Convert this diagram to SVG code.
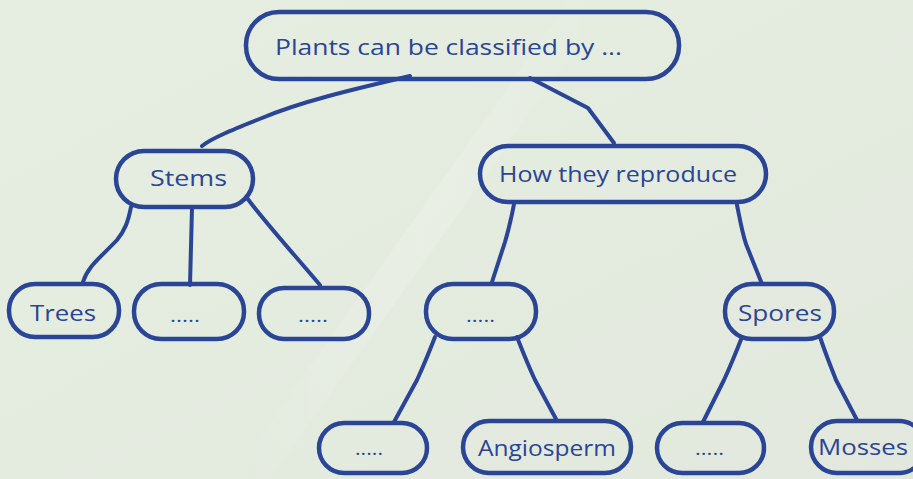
<svg xmlns="http://www.w3.org/2000/svg" width="913" height="479" viewBox="0 0 913 479">
  <defs>
    <linearGradient id="bg" x1="0" y1="0" x2="1" y2="1">
      <stop offset="0" stop-color="#e6eee1"/>
      <stop offset="0.5" stop-color="#e4ebdf"/>
      <stop offset="1" stop-color="#e2e8dd"/>
    </linearGradient>
    <linearGradient id="streak" x1="0" y1="0" x2="1" y2="0">
      <stop offset="0" stop-color="#ffffff" stop-opacity="0"/>
      <stop offset="0.5" stop-color="#ffffff" stop-opacity="0.18"/>
      <stop offset="1" stop-color="#ffffff" stop-opacity="0"/>
    </linearGradient>
  </defs>
  <style>
    .node { fill: none; stroke: #2a4595; stroke-width: 4.5; }
    .link { fill: none; stroke: #2a4595; stroke-width: 4; stroke-linecap: round; stroke-linejoin: round; }
    .label { font-family: "Open Sans", "Liberation Sans", sans-serif; fill: #2a4595; font-size: 22px; }
    .dots { font-family: "Open Sans", "Liberation Sans", sans-serif; fill: #2a4595; font-size: 18px; }
  </style>
  <rect x="0" y="0" width="913" height="479" fill="url(#bg)"/>
  <polygon points="570,0 610,0 270,479 230,479" fill="url(#streak)"/>

  <g id="connectors">
    <path class="link" d="M410 76 C 350 90, 300 102, 262 118 C 232 130, 212 138, 202 146"/>
    <path class="link" d="M530 78 L 588 108 L 614 143"/>
    <path class="link" d="M131 207 C 128 222, 125 230, 117 240 C 100 258, 88 266, 83 282"/>
    <path class="link" d="M192 208 L 190 285"/>
    <path class="link" d="M247 198 C 265 222, 285 244, 320 285"/>
    <path class="link" d="M514 204 C 511 220, 508 232, 505 242 L 492 282"/>
    <path class="link" d="M737 205 C 740 220, 742 232, 746 244 L 762 284"/>
    <path class="link" d="M435 337 C 428 355, 423 367, 417 380 L 394 422"/>
    <path class="link" d="M517 337 C 524 355, 529 367, 535 380 L 556 419"/>
    <path class="link" d="M742 337 C 735 355, 730 367, 724 380 L 703 422"/>
    <path class="link" d="M820 337 C 826 355, 831 367, 836 380 L 857 420"/>
  </g>

  <g id="node-root">
    <rect class="node" x="246" y="12" width="433" height="67" rx="33"/>
    <text class="label" x="275" y="55" font-size="24" textLength="347" lengthAdjust="spacingAndGlyphs">Plants can be classified by ...</text>
  </g>

  <g id="node-stems">
    <rect class="node" x="116" y="151" width="137" height="56" rx="28"/>
    <text class="label" x="150" y="186" textLength="77" lengthAdjust="spacingAndGlyphs">Stems</text>
  </g>

  <g id="node-reproduce">
    <rect class="node" x="480" y="146" width="286" height="56" rx="28"/>
    <text class="label" x="499" y="182" textLength="238" lengthAdjust="spacingAndGlyphs">How they reproduce</text>
  </g>

  <g id="node-trees">
    <rect class="node" x="9" y="284" width="110" height="53" rx="26"/>
    <text class="label" x="30" y="321" textLength="66" lengthAdjust="spacingAndGlyphs">Trees</text>
  </g>

  <g id="node-stem2">
    <rect class="node" x="134" y="284" width="110" height="55" rx="27"/>
    <text class="dots" x="170" y="322" textLength="30" lengthAdjust="spacingAndGlyphs">.....</text>
  </g>

  <g id="node-stem3">
    <rect class="node" x="259" y="288" width="110" height="51" rx="25"/>
    <text class="dots" x="298" y="322" textLength="30" lengthAdjust="spacingAndGlyphs">.....</text>
  </g>

  <g id="node-seeds">
    <rect class="node" x="426" y="284" width="110" height="55" rx="27"/>
    <text class="dots" x="466" y="322" textLength="29" lengthAdjust="spacingAndGlyphs">.....</text>
  </g>

  <g id="node-spores">
    <rect class="node" x="725" y="284" width="109" height="55" rx="27"/>
    <text class="label" x="738" y="321" textLength="84" lengthAdjust="spacingAndGlyphs">Spores</text>
  </g>

  <g id="node-seed1">
    <rect class="node" x="319" y="423" width="108" height="50" rx="25"/>
    <text class="dots" x="355" y="455" textLength="28" lengthAdjust="spacingAndGlyphs">.....</text>
  </g>

  <g id="node-angiosperm">
    <rect class="node" x="463" y="421" width="168" height="52" rx="26"/>
    <text class="label" x="478" y="456" textLength="138" lengthAdjust="spacingAndGlyphs">Angiosperm</text>
  </g>

  <g id="node-spore1">
    <rect class="node" x="657" y="423" width="107" height="50" rx="25"/>
    <text class="dots" x="695" y="455" textLength="29" lengthAdjust="spacingAndGlyphs">.....</text>
  </g>

  <g id="node-mosses">
    <rect class="node" x="811" y="421" width="114" height="52" rx="26"/>
    <text class="label" x="818" y="455" textLength="90" lengthAdjust="spacingAndGlyphs">Mosses</text>
  </g>
</svg>
